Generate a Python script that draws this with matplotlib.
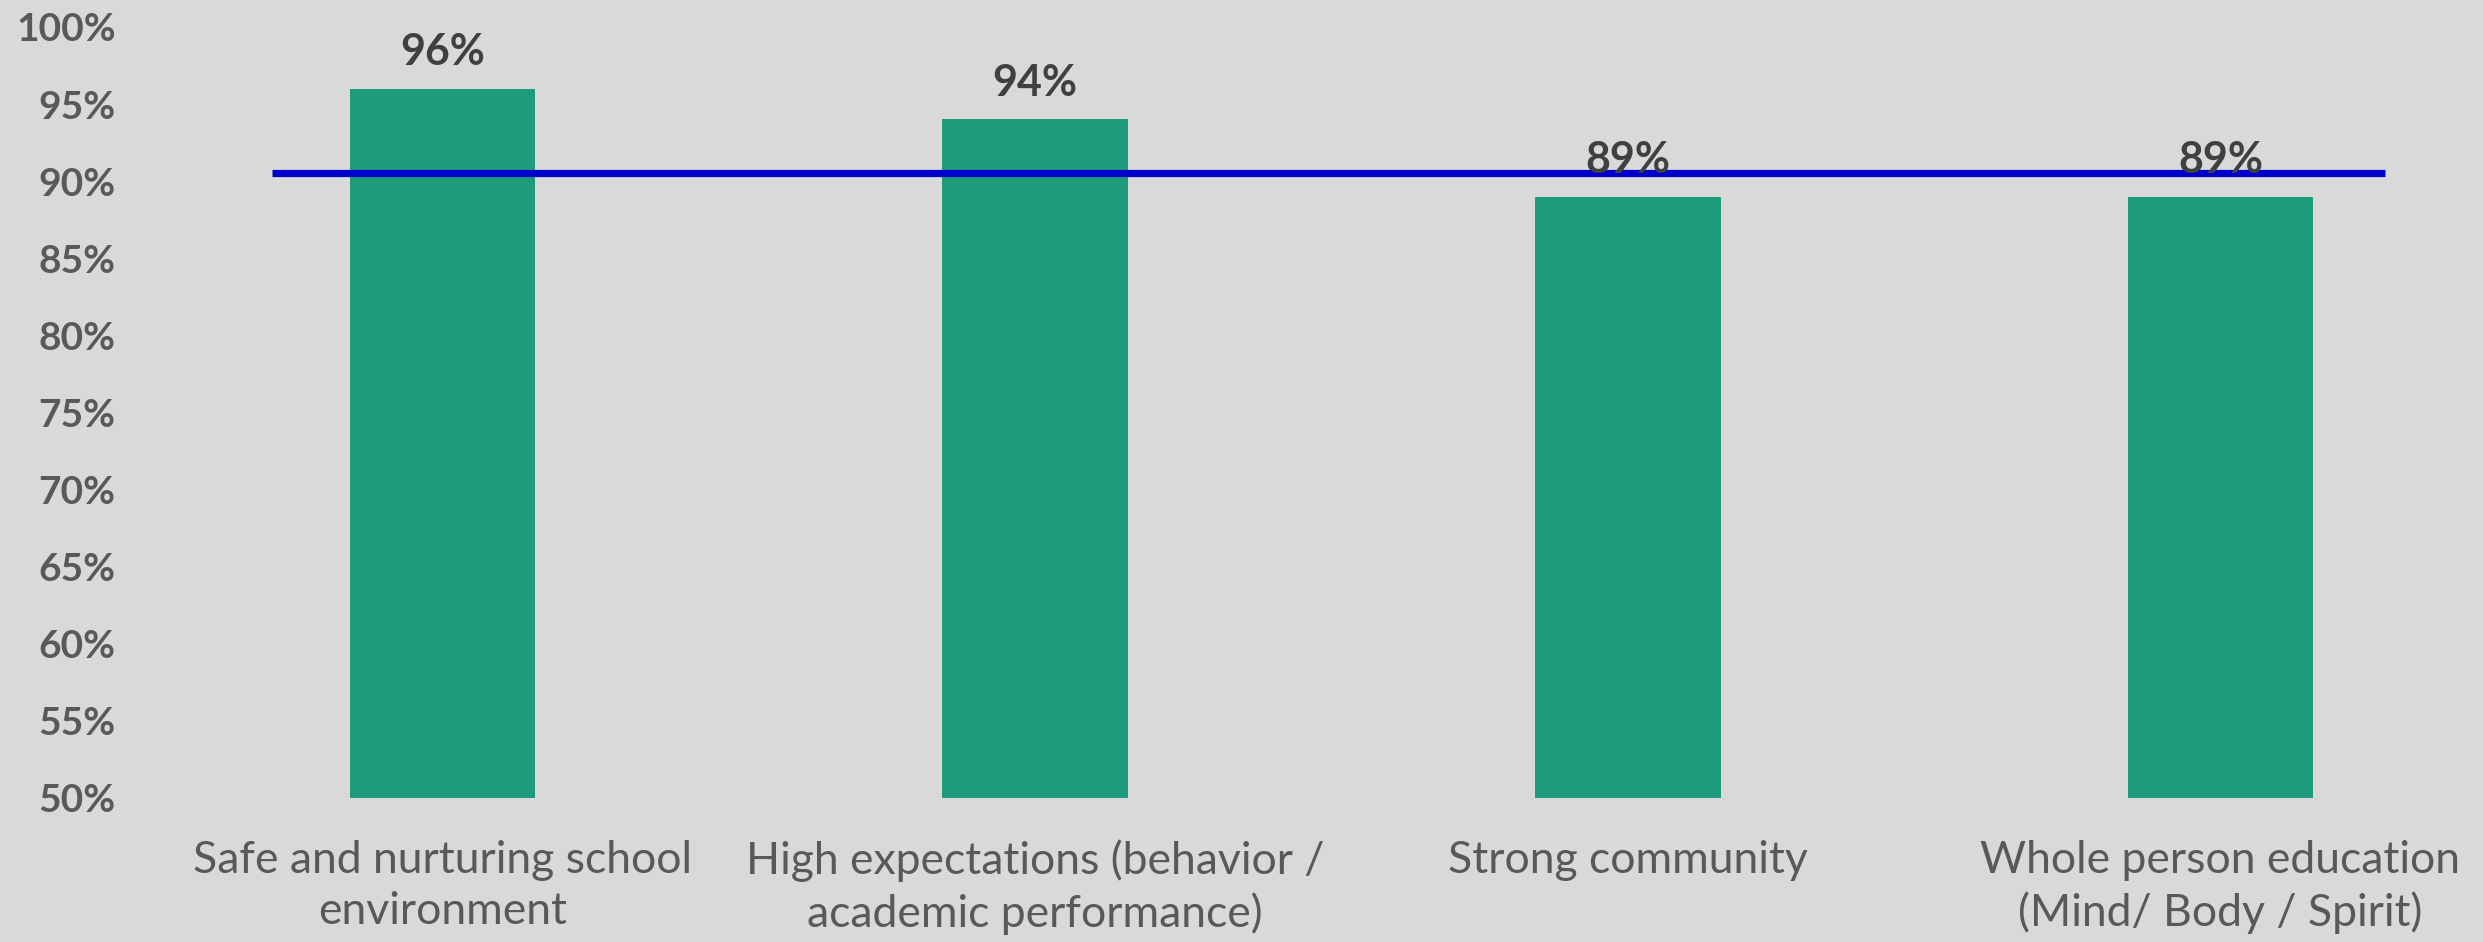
import matplotlib
matplotlib.use("Agg")
import matplotlib.pyplot as plt
from matplotlib.ticker import FuncFormatter

categories = ["Safe and nurturing school\nenvironment",
              "High expectations (behavior /\nacademic performance)",
              "Strong community",
              "Whole person education\n(Mind/ Body / Spirit)"]
values = [0.96, 0.94, 0.89, 0.89]
value_labels = ["96%", "94%", "89%", "89%"]
target = 0.905
yticks = [0.50, 0.55, 0.60, 0.65, 0.70, 0.75, 0.80, 0.85, 0.90, 0.95, 1.00]

bg = "#D9D9D9"
plt.rcParams['font.family'] = ['Lato', 'DejaVu Sans']

fig = plt.figure(figsize=(24.83, 9.42), dpi=100, facecolor=bg)
ax = fig.add_axes([0.0589, 0.1529, 0.9404, 0.8185], facecolor=bg)

x = list(range(len(categories)))
ax.bar(x, [v - 0.5 for v in values], bottom=0.5, width=0.313, color="#1E9B7A", zorder=2)
ax.plot([-0.287, 3.277], [target, target], color="#0000CC", linewidth=5.2, zorder=3,
        solid_capstyle="butt")

for xi, v, lab in zip(x, values, value_labels):
    ax.annotate(lab, (xi, v), xytext=(0, 12), textcoords="offset points",
                ha="center", va="bottom", fontsize=31, fontweight="bold", color="#404040", zorder=4)

ax.set_xlim(-0.5, 3.44)
ax.set_ylim(0.5, 1.0)
ax.set_yticks(yticks)
ax.yaxis.set_major_formatter(FuncFormatter(lambda v, p: f"{round(v*100):d}%"))
ax.set_xticks(x)
ax.set_xticklabels(categories, fontsize=32, color="#595959", linespacing=1.3)
for t in ax.get_yticklabels():
    t.set_fontsize(28)
    t.set_fontweight("bold")
    t.set_color("#595959")
ax.tick_params(axis="both", length=0)
ax.tick_params(axis="x", pad=30)
ax.tick_params(axis="y", pad=22)
for s in ax.spines.values():
    s.set_visible(False)

fig.savefig("out.png", dpi=100, facecolor=bg)
